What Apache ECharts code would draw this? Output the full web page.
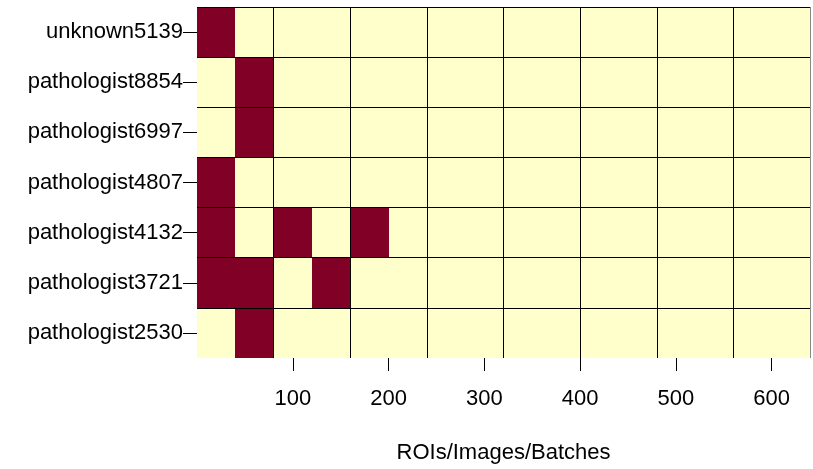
<!DOCTYPE html>
<html>
<head>
<meta charset="utf-8">
<script src="https://cdn.jsdelivr.net/npm/echarts@6/dist/echarts.min.js"></script>
<style>
    html, body { margin: 0; padding: 0; background: #fff; }
    #chart { width: 813px; height: 469px; }
</style>
</head>
<body>
<div id="chart"></div>
<script>
// 行（从上到下）
const annotators = [
    "unknown5139",
    "pathologist8854",
    "pathologist6997",
    "pathologist4807",
    "pathologist4132",
    "pathologist3721",
    "pathologist2530"
];
// 每个格子的起点，宽 40
const binStarts = [0, 40, 80, 120, 160, 200, 240, 280, 320, 360, 400, 440, 480, 520, 560, 600];
const binWidth = 40;
// 1 = 有标注, 0 = 无
const unknown5139 = [1, 0, 0, 0, 0, 0, 0, 0, 0, 0, 0, 0, 0, 0, 0, 0];
const pathologist8854 = [0, 1, 0, 0, 0, 0, 0, 0, 0, 0, 0, 0, 0, 0, 0, 0];
const pathologist6997 = [0, 1, 0, 0, 0, 0, 0, 0, 0, 0, 0, 0, 0, 0, 0, 0];
const pathologist4807 = [1, 0, 0, 0, 0, 0, 0, 0, 0, 0, 0, 0, 0, 0, 0, 0];
const pathologist4132 = [1, 0, 1, 0, 1, 0, 0, 0, 0, 0, 0, 0, 0, 0, 0, 0];
const pathologist3721 = [1, 1, 0, 1, 0, 0, 0, 0, 0, 0, 0, 0, 0, 0, 0, 0];
const pathologist2530 = [0, 1, 0, 0, 0, 0, 0, 0, 0, 0, 0, 0, 0, 0, 0, 0];
const rowValues = [
    unknown5139,
    pathologist8854,
    pathologist6997,
    pathologist4807,
    pathologist4132,
    pathologist3721,
    pathologist2530
];
const xTicks = [100, 200, 300, 400, 500, 600];
const xName = "ROIs/Images/Batches";

const darkColor = "#800026";
const lightColor = "#FFFFCC";
const fontFamily = "'Liberation Sans', Arial, sans-serif";

let cells = [];
rowValues.forEach((vals, r) => {
    vals.forEach((v, i) => {
        cells.push([binStarts[i], binStarts[i] + binWidth, r, v]);
    });
});

const chart = echarts.init(document.getElementById("chart"), null, { renderer: "canvas" });

const renderCell = (params, api) => {
    const p0 = api.coord([api.value(0), api.value(2)]);
    const p1 = api.coord([api.value(1), api.value(2)]);
    const h = api.size([0, 1])[1];
    const x = Math.round(p0[0]);
    const y = Math.round(p0[1] - h / 2);
    return {
        type: "rect",
        shape: {
            x: x,
            y: y,
            width: Math.round(p1[0]) - x,
            height: Math.round(p0[1] + h / 2) - y
        },
        style: { fill: api.value(3) ? darkColor : lightColor }
    };
};

chart.setOption({
    animation: false,
    grid: { left: 197, width: 613, top: 7, height: 355 },
    xAxis: [
        {
            type: "value",
            min: 0,
            max: 640,
            position: "bottom",
            name: xName,
            nameLocation: "middle",
            nameGap: 84,
            nameTextStyle: { color: "#000", fontSize: 22, fontFamily: fontFamily },
            axisLine: { show: false },
            axisTick: { show: true, length: 13, customValues: xTicks, lineStyle: { color: "#000", width: 1 } },
            axisLabel: { customValues: xTicks, margin: 30, color: "#000", fontSize: 22, fontFamily: fontFamily },
            splitLine: { show: false }
        },
        {
            // 网格线，每 80 一条
            type: "value",
            min: 0,
            max: 640,
            interval: 80,
            position: "top",
            z: 5,
            axisLine: { show: false },
            axisTick: { show: false },
            axisLabel: { show: false },
            splitLine: {
                show: true,
                showMinLine: false,
                lineStyle: {
                    color: ["#000", "#000", "#000", "#000", "#000", "#000", "#000", "#888"],
                    width: 1
                }
            }
        }
    ],
    yAxis: {
        type: "category",
        data: annotators,
        inverse: true,
        z: 5,
        axisLine: { show: false },
        axisTick: { show: true, alignWithLabel: true, length: 14, lineStyle: { color: "#000", width: 1 } },
        axisLabel: { margin: 14, color: "#000", fontSize: 22, fontFamily: fontFamily },
        splitLine: {
            show: true,
            interval: 0,
            showMaxLine: false,
            lineStyle: { color: "#000", width: 1 }
        }
    },
    series: [
        {
            type: "custom",
            xAxisIndex: 0,
            yAxisIndex: 0,
            renderItem: renderCell,
            encode: { x: [0, 1], y: 2 },
            data: cells
        }
    ]
});
</script>
</body>
</html>
